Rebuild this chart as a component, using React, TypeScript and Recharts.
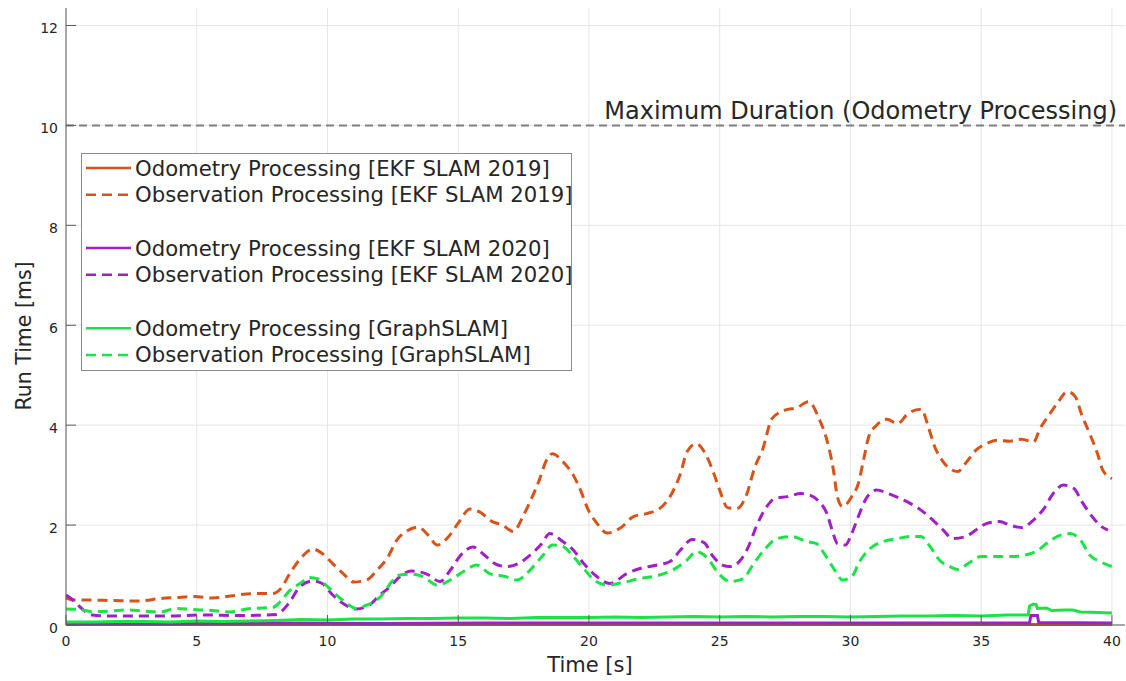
import React from 'react';
import { LineChart, Line, XAxis, YAxis, CartesianGrid, ReferenceLine, Legend } from 'recharts';

const FONT = '"DejaVu Sans", "Liberation Sans", sans-serif';
const TEXT = '#262626';
const AXIS = '#5a5a5a';

const ORANGE = '#d95319';
const PURPLE = '#a020c8';
const GREEN = '#19e346';

const xTicks = [0, 5, 10, 15, 20, 25, 30, 35, 40];
const yTicks = [0, 2, 4, 6, 8, 10, 12];
const X_MAX = 40.5;
const Y_MAX = 12.35;
const maxDurationMs = 10;

// EKF SLAM 2019
const ekf2019OdoTime = [0, 10, 20, 30, 40];
const ekf2019OdoMs = [0.01, 0.01, 0.01, 0.01, 0.01];

const ekf2019ObsTime = [
  0, 0.3, 0.8, 1.8, 2.8, 3.6, 4.2, 4.9, 5.6, 6.3, 6.9, 7.5, 7.9, 8.2, 8.57, 8.95, 9.45, 9.8,
  10.2, 10.6, 11.0, 11.5, 11.9, 12.3, 12.65, 13.0, 13.47, 13.85, 14.2, 14.6, 15.0, 15.45,
  15.8, 16.3, 16.7, 17.1, 17.5, 17.8, 18.1, 18.35, 18.6, 19.0, 19.4, 19.7, 19.95, 20.3,
  20.7, 21.2, 21.7, 22.2, 22.7, 23.1, 23.5, 23.75, 24.1, 24.45, 24.75, 25.0, 25.3, 25.65,
  26.0, 26.35, 26.65, 27.0, 27.5, 27.95, 28.4, 28.8, 29.1, 29.35, 29.5, 29.7, 30.05, 30.3,
  30.5, 30.7, 31.0, 31.4, 31.8, 32.2, 32.7, 33.0, 33.2, 33.5, 33.8, 34.1, 34.45, 34.8,
  35.2, 35.6, 36.1, 36.55, 37.0, 37.25, 37.55, 37.9, 38.3, 38.6, 38.85, 39.15, 39.45,
  39.65, 40.0,
];
const ekf2019ObsMs = [
  0.55, 0.5, 0.5, 0.49, 0.48, 0.53, 0.55, 0.57, 0.54, 0.58, 0.62, 0.63, 0.63, 0.72, 1.04, 1.32, 1.52, 1.43,
  1.23, 1.03, 0.86, 0.9, 1.1, 1.35, 1.7, 1.87, 1.96, 1.8, 1.6, 1.75, 2.04, 2.32,
  2.27, 2.07, 2.0, 1.87, 2.2, 2.53, 2.9, 3.27, 3.43, 3.27, 3.0, 2.67, 2.33, 2.04,
  1.84, 1.94, 2.17, 2.23, 2.33, 2.57, 3.03, 3.47, 3.63, 3.43, 3.07, 2.7, 2.35, 2.33,
  2.57, 3.17, 3.53, 4.13, 4.3, 4.35, 4.47, 4.13, 3.7, 3.1, 2.57, 2.37, 2.57, 2.83,
  3.3, 3.77, 4.0, 4.12, 4.03, 4.23, 4.32, 3.93, 3.6, 3.3, 3.13, 3.07, 3.27, 3.5,
  3.63, 3.7, 3.68, 3.72, 3.66, 3.93, 4.17, 4.43, 4.67, 4.57, 4.2, 3.83, 3.43,
  3.1, 2.93,
];

// EKF SLAM 2020
const ekf2020OdoTime = [0, 4, 8, 12, 16, 20, 24, 28, 32, 36, 36.85, 36.9, 37.15, 37.2, 40];
const ekf2020OdoMs = [0.03, 0.03, 0.04, 0.03, 0.04, 0.04, 0.04, 0.04, 0.04, 0.04, 0.04, 0.19, 0.19, 0.05, 0.04];

const ekf2020ObsTime = [
  0, 0.27, 0.6, 1.0, 1.7, 3.0, 3.9, 5.25, 6.65, 8.05, 8.3, 8.57, 8.95, 9.45, 9.8, 10.2,
  10.6, 11.1, 11.6, 12.0, 12.4, 12.77, 13.2, 13.8, 14.3, 14.7, 15.1, 15.57, 16.0, 16.4,
  16.85, 17.3, 17.75, 18.2, 18.5, 19.0, 19.4, 19.85, 20.3, 20.8, 21.45, 21.95, 22.6,
  23.1, 23.5, 23.95, 24.4, 24.75, 25.1, 25.4, 25.8, 26.1, 26.4, 26.8, 27.1, 27.6, 28.1,
  28.45, 28.8, 29.1, 29.3, 29.5, 29.8, 30.05, 30.3, 30.6, 31.0, 31.45, 31.9, 32.3, 32.7,
  33.15, 33.55, 33.9, 34.4, 34.8, 35.2, 35.7, 36.1, 36.55, 37.0, 37.4, 37.75, 38.15,
  38.55, 38.85, 39.2, 39.6, 39.85,
];
const ekf2020ObsMs = [
  0.6, 0.5, 0.33, 0.2, 0.18, 0.18, 0.18, 0.2, 0.19, 0.21, 0.3, 0.47, 0.77, 0.88, 0.83, 0.6,
  0.43, 0.32, 0.4, 0.6, 0.77, 0.97, 1.08, 1.02, 0.87, 1.1, 1.4, 1.56, 1.4, 1.23,
  1.17, 1.23, 1.4, 1.63, 1.83, 1.67, 1.5, 1.2, 0.97, 0.83, 1.03, 1.13, 1.2,
  1.27, 1.5, 1.71, 1.65, 1.37, 1.2, 1.17, 1.3, 1.57, 1.97, 2.37, 2.53, 2.57, 2.63,
  2.6, 2.47, 2.23, 1.9, 1.63, 1.6, 1.83, 2.17, 2.53, 2.7, 2.63, 2.53, 2.43, 2.3,
  2.1, 1.9, 1.73, 1.77, 1.9, 2.03, 2.07, 2.0, 1.95, 2.1, 2.33, 2.63, 2.8,
  2.73, 2.47, 2.2, 1.97, 1.9,
];

// GraphSLAM
const graphOdoTime = [
  0, 1, 2, 3, 4, 5, 6, 7, 8, 9, 10, 11, 12, 13, 14, 15, 16, 17, 18, 19, 20, 21, 22, 23, 24,
  25, 26, 27, 28, 29, 30, 31, 32, 33, 34, 35, 36, 36.8, 36.85, 37.0, 37.1, 37.15, 37.5,
  37.7, 38.2, 38.5, 38.8, 39.5, 40,
];
const graphOdoMs = [
  0.06, 0.06, 0.07, 0.07, 0.06, 0.08, 0.07, 0.08, 0.09, 0.11, 0.1, 0.12, 0.12, 0.13, 0.13, 0.14, 0.14, 0.13, 0.15, 0.15, 0.15, 0.16, 0.15, 0.16, 0.17,
  0.16, 0.17, 0.16, 0.17, 0.17, 0.16, 0.17, 0.18, 0.18, 0.19, 0.18, 0.2, 0.2, 0.38, 0.42, 0.41, 0.33, 0.34,
  0.29, 0.3, 0.3, 0.26, 0.25, 0.24,
];

const graphObsTime = [
  0, 0.5, 1.0, 1.7, 2.3, 2.95, 3.6, 4.2, 4.85, 5.6, 6.3, 6.9, 7.5, 7.9, 8.2, 8.57, 8.95,
  9.3, 9.65, 10.0, 10.35, 10.7, 11.1, 11.5, 11.8, 12.2, 12.4, 12.77, 13.2, 13.65, 14.2,
  14.7, 15.2, 15.7, 16.2, 16.8, 17.25, 17.75, 18.25, 18.6, 19.0, 19.4, 19.8, 20.2, 20.7,
  21.2, 21.95, 22.7, 23.2, 23.75, 24.1, 24.55, 24.9, 25.4, 25.9, 26.3, 26.7, 27.2, 27.75,
  28.35, 28.7, 29.0, 29.4, 29.7, 30.05, 30.35, 30.75, 31.25, 31.8, 32.3, 32.7, 33.05,
  33.4, 33.8, 34.1, 34.5, 35.0, 35.6, 36.2, 36.75, 37.1, 37.5, 37.9, 38.4, 38.8, 39.15,
  39.55, 40.0,
];
const graphObsMs = [
  0.32, 0.31, 0.27, 0.28, 0.3, 0.28, 0.26, 0.33, 0.31, 0.29, 0.26, 0.32, 0.34, 0.35, 0.47, 0.7, 0.83,
  0.95, 0.92, 0.77, 0.6, 0.45, 0.33, 0.4, 0.47, 0.67, 0.83, 1.0, 1.02, 0.97, 0.8,
  0.9, 1.07, 1.2, 1.03, 0.97, 0.9, 1.1, 1.4, 1.6, 1.57, 1.37, 1.13, 0.9, 0.8,
  0.84, 0.93, 1.0, 1.1, 1.3, 1.47, 1.33, 1.07, 0.87, 0.93, 1.23, 1.5, 1.73, 1.77,
  1.67, 1.63, 1.43, 1.1, 0.9, 0.97, 1.27, 1.53, 1.67, 1.73, 1.77, 1.77, 1.57,
  1.3, 1.17, 1.11, 1.23, 1.37, 1.37, 1.37, 1.41, 1.47, 1.63, 1.77, 1.83, 1.7, 1.4,
  1.27, 1.17,
];

type Series = {
  key: string;
  name: string;
  color: string;
  dashed: boolean;
  time: number[];
  values: number[];
};

const series: Series[] = [
  { key: 'ekf19odo', name: 'Odometry Processing [EKF SLAM 2019]', color: ORANGE, dashed: false, time: ekf2019OdoTime, values: ekf2019OdoMs },
  { key: 'ekf19obs', name: 'Observation Processing [EKF SLAM 2019]', color: ORANGE, dashed: true, time: ekf2019ObsTime, values: ekf2019ObsMs },
  { key: 'ekf20odo', name: 'Odometry Processing [EKF SLAM 2020]', color: PURPLE, dashed: false, time: ekf2020OdoTime, values: ekf2020OdoMs },
  { key: 'ekf20obs', name: 'Observation Processing [EKF SLAM 2020]', color: PURPLE, dashed: true, time: ekf2020ObsTime, values: ekf2020ObsMs },
  { key: 'graphodo', name: 'Odometry Processing [GraphSLAM]', color: GREEN, dashed: false, time: graphOdoTime, values: graphOdoMs },
  { key: 'graphobs', name: 'Observation Processing [GraphSLAM]', color: GREEN, dashed: true, time: graphObsTime, values: graphObsMs },
];

const toPoints = (s: Series) => s.time.map((t, i) => ({ t, ms: s.values[i] }));

const TICK_GAP = 8;

// MATLAB-style ticks: short marks pointing into the plot
const YTick = (props: any) => {
  const { x, y, payload } = props;
  const axisX = x + TICK_GAP;
  return (
    <g>
      <line x1={axisX} x2={axisX + 10} y1={y} y2={y} stroke={AXIS} strokeWidth={1} />
      <text x={x} y={y} dy={7.5} textAnchor="end" fontSize={14} fontFamily={FONT} fill={TEXT}>
        {payload.value}
      </text>
    </g>
  );
};

const XTick = (props: any) => {
  const { x, y, payload } = props;
  const axisY = y - TICK_GAP;
  return (
    <g>
      <line x1={x} x2={x} y1={axisY} y2={axisY - 10} stroke={AXIS} strokeWidth={1} />
      <text x={x} y={y} dy={13} textAnchor="middle" fontSize={14} fontFamily={FONT} fill={TEXT}>
        {payload.value}
      </text>
    </g>
  );
};

// grid only at the tick values
const gridRows = (p: any) => yTicks.map((v) => p.offset.top + p.offset.height * (1 - v / Y_MAX));
const gridCols = (p: any) => xTicks.map((v) => p.offset.left + (p.offset.width * v) / X_MAX);

const LEGEND_ROW = 26.7;

const LegendBox = () => {
  // two entries per method, blank row between groups
  const rows: (Series | null)[] = [];
  series.forEach((s, i) => {
    if (i > 0 && i % 2 === 0) rows.push(null);
    rows.push(s);
  });
  return (
    <svg width={491} height={218} style={{ display: 'block' }}>
      <rect x={0.5} y={0.5} width={490} height={217} fill="#ffffff" stroke="#8c8c8c" strokeWidth={1} />
      {rows.map((s, i) => {
        if (!s) return null;
        const cy = 15 + i * LEGEND_ROW;
        return (
          <g key={s.key}>
            <line
              x1={5}
              x2={50}
              y1={cy}
              y2={cy}
              stroke={s.color}
              strokeWidth={2.5}
              strokeDasharray={s.dashed ? '10 6' : undefined}
            />
            <text x={54} y={cy} dy={7.5} fontSize={21.2} fontFamily={FONT} fill={TEXT}>
              {s.name}
            </text>
          </g>
        );
      })}
    </svg>
  );
};

const MaxDurationLabel = (props: any) => {
  const { viewBox } = props;
  return (
    <text
      x={viewBox.x + viewBox.width - 8}
      y={viewBox.y - 6.5}
      textAnchor="end"
      fontSize={24}
      fontFamily={FONT}
      fill={TEXT}
    >
      Maximum Duration (Odometry Processing)
    </text>
  );
};

const XTitle = () => (
  <text x={590} y={672} textAnchor="middle" fontSize={21} fontFamily={FONT} fill={TEXT}>
    Time [s]
  </text>
);

const YTitle = () => (
  <text
    x={0}
    y={0}
    transform="translate(31, 336) rotate(-90)"
    textAnchor="middle"
    fontSize={20.5}
    fontFamily={FONT}
    fill={TEXT}
  >
    Run Time [ms]
  </text>
);

export default function App() {
  return (
    <div style={{ position: 'absolute', left: 0, top: 0, width: 1126, height: 681, background: '#ffffff' }}>
      <LineChart width={1126} height={681} margin={{ top: 8, right: 1, bottom: 16, left: 8 }}>
        <CartesianGrid
          stroke="#e6e6e6"
          strokeWidth={1}
          horizontalCoordinatesGenerator={gridRows}
          verticalCoordinatesGenerator={gridCols}
        />
        <XAxis
          type="number"
          dataKey="t"
          domain={[0, X_MAX]}
          ticks={xTicks}
          height={40}
          stroke={AXIS}
          tickLine={false}
          tickSize={0}
          tickMargin={TICK_GAP}
          tick={<XTick />}
          label={{ content: <XTitle /> }}
        />
        <YAxis
          type="number"
          domain={[0, Y_MAX]}
          ticks={yTicks}
          width={58}
          stroke={AXIS}
          tickLine={false}
          tickSize={0}
          tickMargin={TICK_GAP}
          tick={<YTick />}
          label={{ content: <YTitle /> }}
        />
        <ReferenceLine
          y={maxDurationMs}
          stroke="#7f7f7f"
          strokeWidth={2}
          strokeDasharray="8 5"
          label={{ content: <MaxDurationLabel /> }}
        />
        {series.map((s) => (
          <Line
            key={s.key}
            data={toPoints(s)}
            dataKey="ms"
            name={s.name}
            type={s.dashed ? 'monotone' : 'linear'}
            stroke={s.color}
            strokeWidth={3}
            strokeDasharray={s.dashed ? '10 6' : undefined}
            dot={false}
            activeDot={false}
            isAnimationActive={false}
          />
        ))}
        <Legend
          layout="horizontal"
          verticalAlign="middle"
          align="center"
          content={<LegendBox />}
          wrapperStyle={{ position: 'absolute', left: 81, top: 153, width: 491, height: 218 }}
        />
      </LineChart>
    </div>
  );
}
